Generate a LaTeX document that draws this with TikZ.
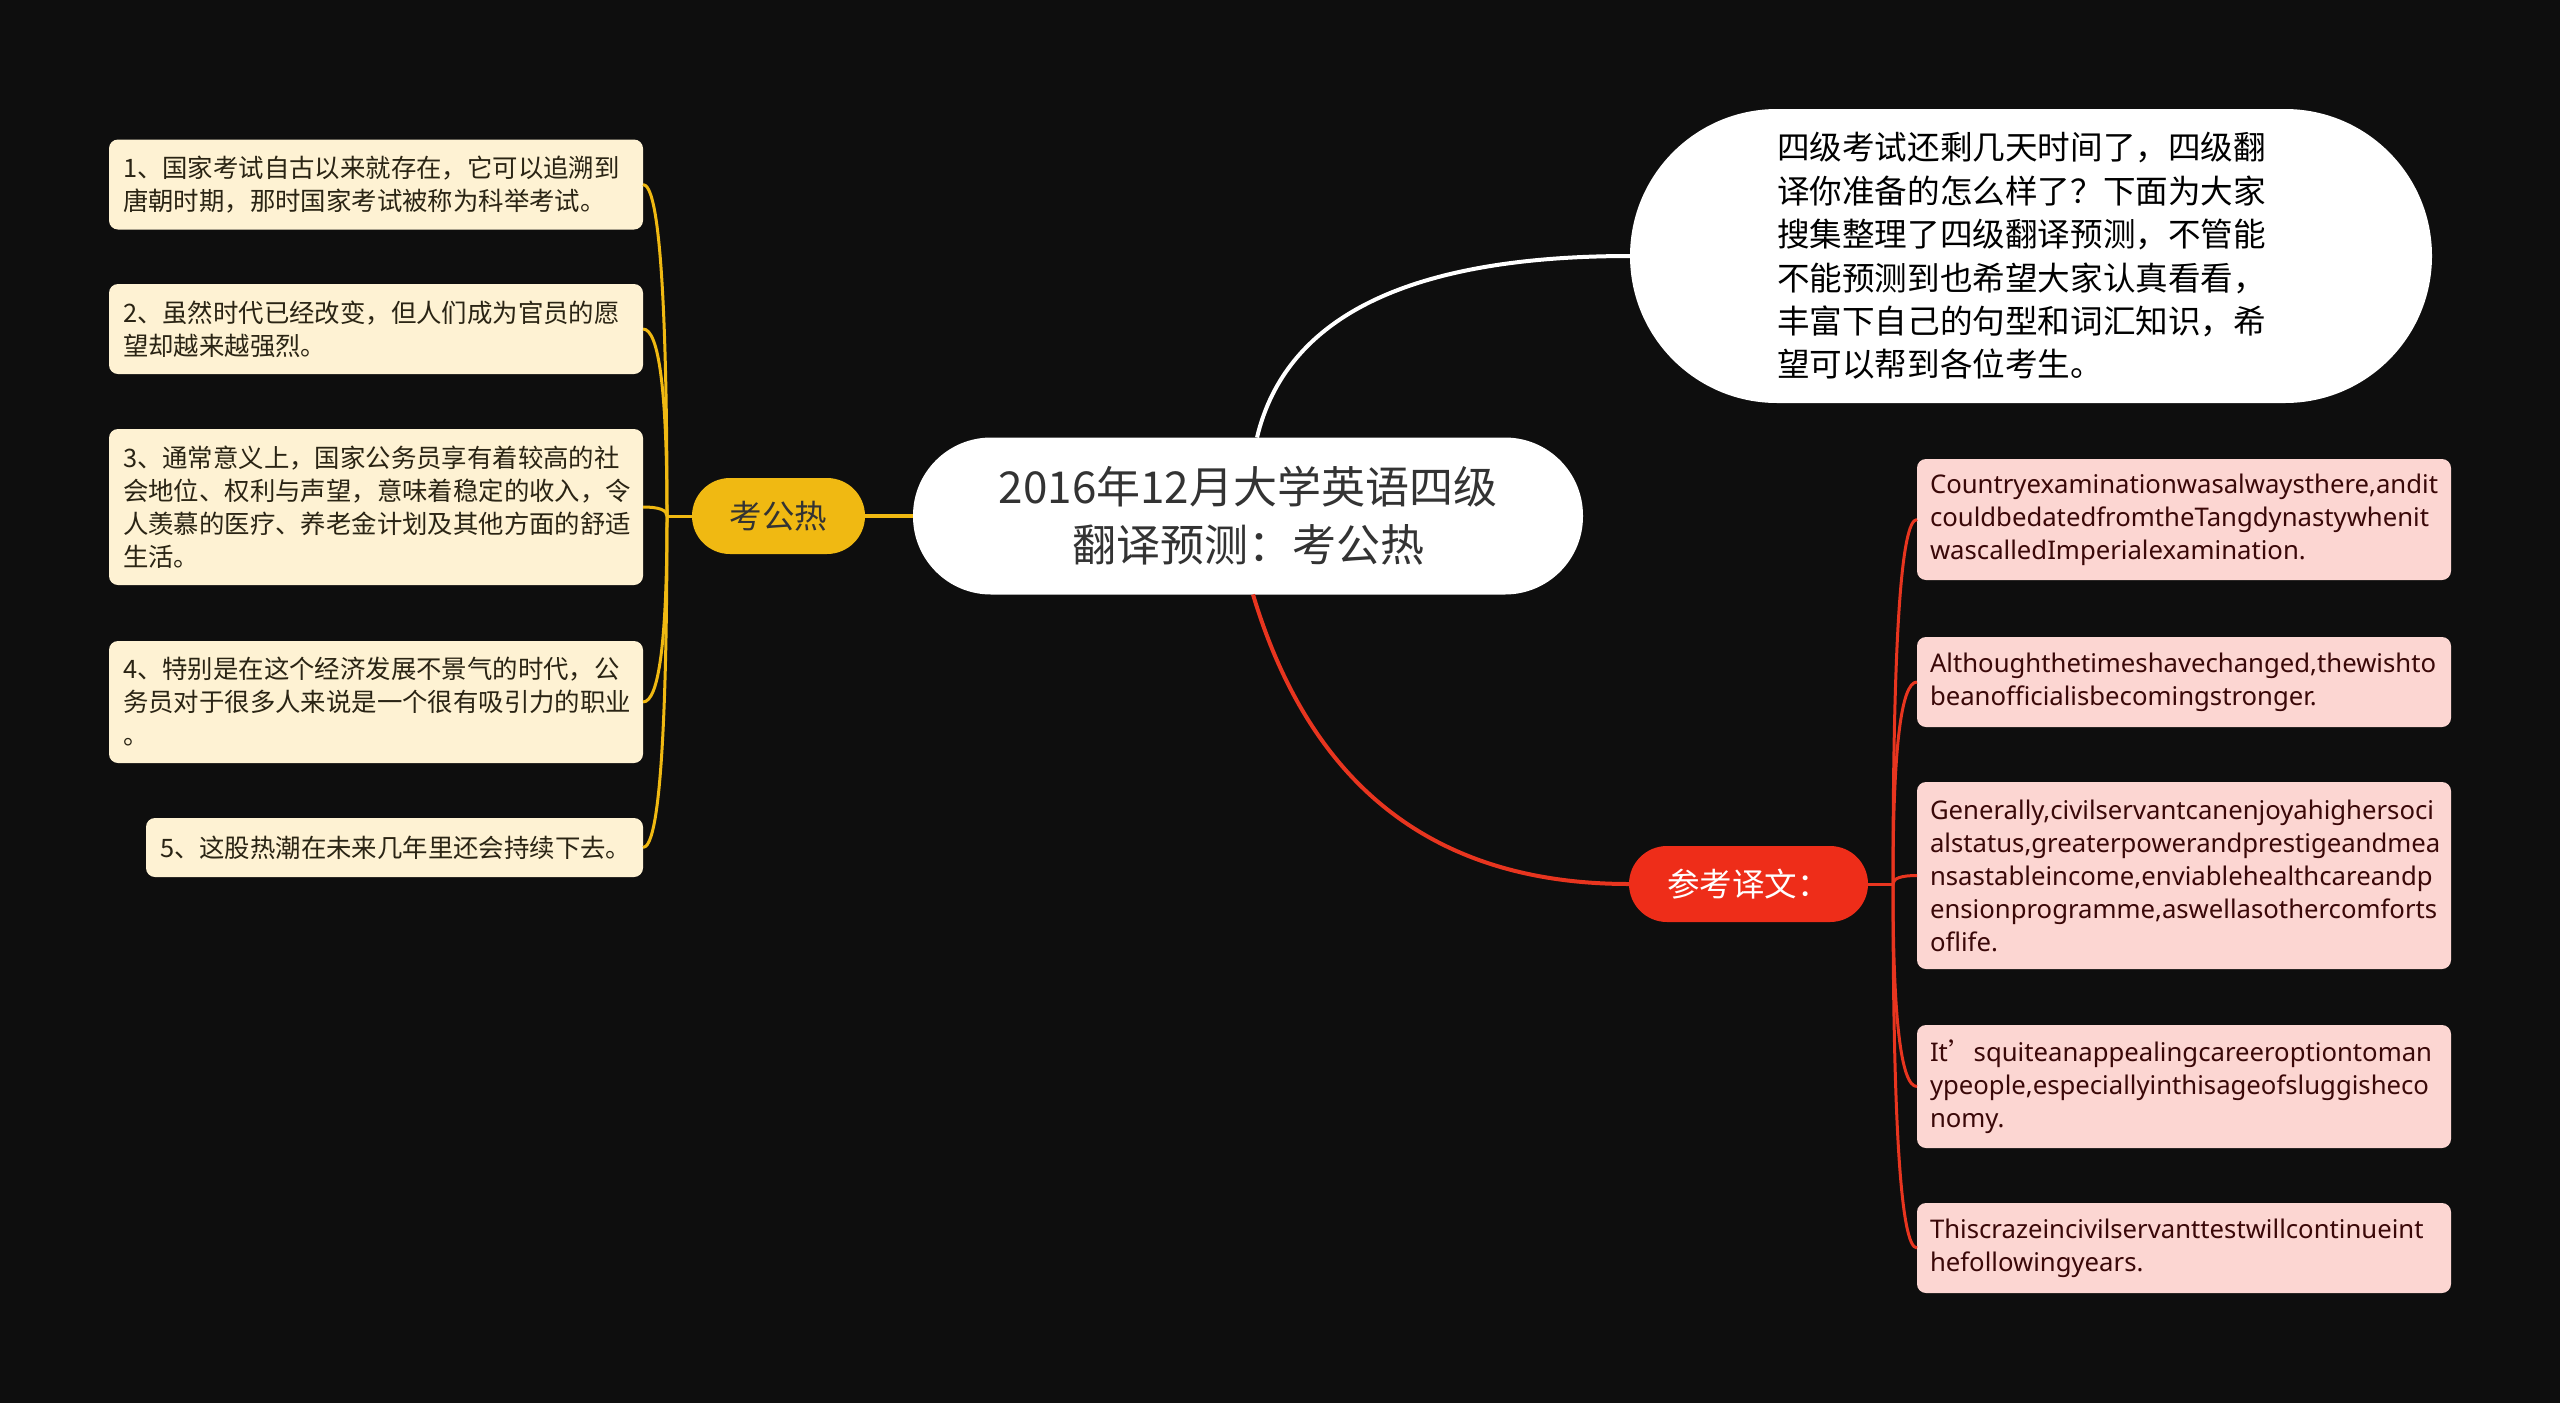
\documentclass[tikz,border=0pt]{standalone}
\usepackage{fontspec}
\setmainfont{Noto Sans}
\newfontfamily\cjk{Noto Sans CJK SC}
\newfontfamily\en{Noto Sans}
\usetikzlibrary{calc}
\hyphenpenalty=10000
\exhyphenpenalty=10000
\definecolor{bg}{HTML}{0E0E0E}
\definecolor{yel}{HTML}{F0B912}
\definecolor{cream}{HTML}{FEF2D3}
\definecolor{creamtxt}{HTML}{2A2414}
\definecolor{redn}{HTML}{EE2D19}
\definecolor{redl}{HTML}{E8351F}
\definecolor{pink}{HTML}{FCD6D2}
\definecolor{pinktxt}{HTML}{3A0808}
\definecolor{darktxt}{HTML}{333333}
\begin{document}
\begin{tikzpicture}[x=1pt,y=-1pt,
  every node/.style={inner sep=0pt, outer sep=0pt},
  centernode/.style={fill=white, rounded corners=78pt, minimum width=670pt, minimum height=157pt, align=center, text=darktxt, font=\cjk\fontsize{44pt}{58pt}\selectfont},
  intro/.style={fill=white, rounded corners=147pt, minimum width=802pt, minimum height=294pt, text width=508pt, align=left, text=black, font=\cjk\fontsize{32.6pt}{43.4pt}\selectfont},
  yelbranch/.style={fill=yel, rounded corners=38pt, minimum width=173pt, minimum height=76pt, text=darktxt, font=\cjk\fontsize{32.5pt}{40pt}\selectfont},
  redbranch/.style={fill=redn, rounded corners=38pt, minimum width=239pt, minimum height=76pt, text=white, font=\cjk\fontsize{32.5pt}{40pt}\selectfont},
  leafl/.style={fill=cream, rounded corners=9pt, inner xsep=14pt, text width=506pt, align=left, text=creamtxt, font=\cjk\fontsize{25.4pt}{33pt}\selectfont, anchor=east},
  leafr/.style={fill=pink, rounded corners=9pt, inner xsep=13pt, text width=508pt, align=left, text=pinktxt, font=\en\fontsize{25.7pt}{33pt}\selectfont, anchor=west},
  yline/.style={draw=yel, line width=3pt},
  rline/.style={draw=redl, line width=3pt},
]
\fill[bg] (0,0) rectangle (2560,1403);
\useasboundingbox (0,0) rectangle (2560,1403);

% main nodes
\node[centernode] (c) at (1248,516) {2016年12月大学英语四级\\翻译预测：考公热};
\node[intro] (i) at (2031,256) {四级考试还剩几天时间了，四级翻\\译你准备的怎么样了？下面为大家\\搜集整理了四级翻译预测，不管能\\不能预测到也希望大家认真看看，\\丰富下自己的句型和词汇知识，希\\望可以帮到各位考生。};
\node[yelbranch] (k) at (778.5,516) {考公热};
\node[redbranch] (r) at (1748.5,884) {参考译文：};

% left leaves
\node[leafl, minimum height=90pt] (l1) at (643,184.5) {1、国家考试自古以来就存在，它可以追溯到\\唐朝时期，那时国家考试被称为科举考试。};
\node[leafl, minimum height=90pt] (l2) at (643,329) {2、虽然时代已经改变，但人们成为官员的愿\\望却越来越强烈。};
\node[leafl, minimum height=156pt] (l3) at (643,507) {3、通常意义上，国家公务员享有着较高的社\\会地位、权利与声望，意味着稳定的收入，令\\人羡慕的医疗、养老金计划及其他方面的舒适\\生活。};
\node[leafl, minimum height=122pt] (l4) at (643,702) {4、特别是在这个经济发展不景气的时代，公\\务员对于很多人来说是一个很有吸引力的职业\\。};
\node[leafl, minimum height=59pt, text width=469pt] (l5) at (643,847.5) {5、这股热潮在未来几年里还会持续下去。};

% right leaves
\node[leafr, minimum height=121pt] (r1) at (1917,519.5) {Countryexaminationwasalwaysthere,andit\\couldbedatedfromtheTangdynastywhenit\\wascalledImperialexamination.};
\node[leafr, minimum height=90pt] (r2) at (1917,682) {Althoughthetimeshavechanged,thewishto\\beanofficialisbecomingstronger.};
\node[leafr, minimum height=187pt] (r3) at (1917,875.5) {Generally,civilservantcanenjoyahighersoci\\alstatus,greaterpowerandprestigeandmea\\nsastableincome,enviablehealthcareandp\\ensionprogramme,aswellasothercomforts\\oflife.};
\node[leafr, minimum height=123pt] (r4) at (1917,1086.5) {It{\cjk ’}squiteanappealingcareeroptiontoman\\ypeople,especiallyinthisageofsluggisheco\\nomy.};
\node[leafr, minimum height=90pt] (r5) at (1917,1248) {Thiscrazeincivilservanttestwillcontinueint\\hefollowingyears.};

% main connectors
\draw[draw=white, line width=4pt] ([xshift=9pt]c.north) .. controls (1286,316) and (1410,256) .. (i.west);
\draw[draw=redl, line width=4pt] ([xshift=5pt]c.south) .. controls (1311,788) and (1436,884) .. (r.west);
\draw[draw=yel, line width=4pt] (c.west) -- (k.east);

% left bracket
\coordinate (ks) at (667,516);
\draw[yline] (k.west) -- (ks);
\foreach \n in {l1,l2,l3,l4,l5}
  \draw[yline] (ks) .. controls ($(ks)!0.667!(ks|-\n.east)$) and ($(\n.east)!0.667!(ks|-\n.east)$) .. (\n.east);

% right bracket
\coordinate (rs) at (1893,884);
\draw[rline] (r.east) -- (rs);
\foreach \n in {r1,r2,r3,r4,r5}
  \draw[rline] (rs) .. controls ($(rs)!0.667!(rs|-\n.west)$) and ($(\n.west)!0.667!(rs|-\n.west)$) .. (\n.west);
\end{tikzpicture}
\end{document}
